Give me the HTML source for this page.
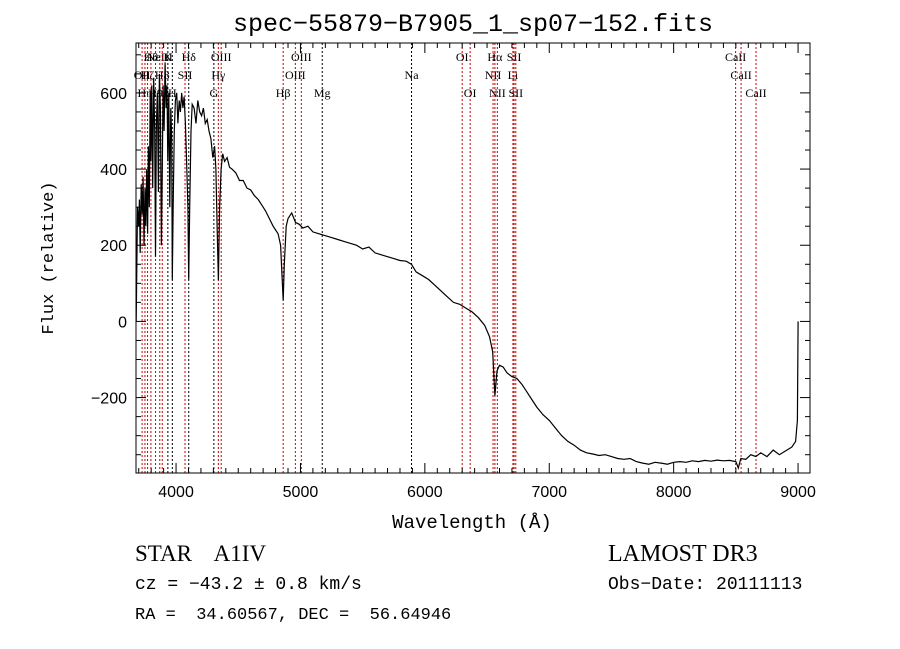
<!DOCTYPE html>
<html><head><meta charset="utf-8"><style>
html,body{margin:0;padding:0;background:#fff;width:900px;height:649px;overflow:hidden}
svg{display:block}
text{white-space:pre}
</style></head><body>
<svg id="chart" width="900" height="649" xmlns="http://www.w3.org/2000/svg" xml:space="preserve">
<text x="473" y="31" text-anchor="middle" font-family="Liberation Mono, monospace" font-size="25">spec−55879−B7905_1_sp07−152.fits</text>
<text transform="translate(53,258) rotate(-90)" text-anchor="middle" font-family="Liberation Mono, monospace" font-size="17">Flux (relative)</text>
<text x="472" y="528" text-anchor="middle" font-family="Liberation Mono, monospace" font-size="19">Wavelength (Å)</text>
<text x="135" y="561" font-family="Liberation Serif, serif" font-size="23">STAR    A1IV</text>
<text x="135" y="589" font-family="Liberation Mono, monospace" font-size="18">cz = −43.2 ± 0.8 km/s</text>
<text x="135" y="619" font-family="Liberation Mono, monospace" font-size="17">RA =  34.60567, DEC =  56.64946</text>
<text x="608" y="561" font-family="Liberation Serif, serif" font-size="24">LAMOST DR3</text>
<text x="608" y="589" font-family="Liberation Mono, monospace" font-size="18">Obs−Date: 20111113</text>
<g id="g"></g>
</svg>
<script>
const wave=[3680,3690,3700,3705,3712,3720,3728,3735,3742,3750,3757,3764,3771,3778,3785,3792,3798,3805,3812,3820,3828,3835,3842,3850,3858,3866,3874,3882,3889,3896,3904,3912,3920,3927,3934,3942,3950,3958,3965,3970,3978,3986,3995,4005,4015,4025,4035,4045,4055,4065,4075,4085,4095,4102,4110,4120,4130,4145,4160,4175,4190,4205,4220,4235,4250,4265,4280,4295,4310,4320,4330,4340,4350,4362,4375,4390,4410,4430,4450,4480,4510,4540,4570,4600,4630,4660,4690,4720,4750,4780,4800,4820,4840,4852,4861,4870,4885,4900,4930,4960,4990,5020,5060,5100,5150,5200,5250,5300,5350,5400,5450,5500,5550,5600,5650,5700,5750,5800,5850,5893,5930,5980,6030,6080,6130,6180,6230,6280,6330,6380,6430,6480,6520,6545,6563,6580,6600,6630,6660,6700,6740,6780,6820,6860,6900,6950,
7000,7050,7100,7150,7200,7250,7300,7350,7400,7450,7500,7550,7600,7650,7700,7750,7800,7850,7900,7950,
8000,8050,8100,8150,8200,8250,8300,8350,8400,8450,8500,8520,8540,8580,8620,8660,8700,8750,8800,8850,8900,8950,8980,8995,9000];
const flux=[0,300,250,320,180,360,280,380,200,350,250,400,230,460,300,600,420,620,350,640,500,170,520,600,340,650,560,200,380,620,500,680,560,620,420,600,300,560,480,110,330,500,580,600,520,580,550,600,560,590,520,420,300,110,300,500,570,560,520,580,550,540,560,520,530,500,480,430,460,400,250,108,300,400,440,420,430,405,400,390,370,370,350,345,330,320,305,290,270,250,240,230,200,120,55,150,250,270,285,260,255,245,250,235,230,225,220,215,210,205,200,190,195,180,175,170,165,160,158,150,130,120,110,95,80,65,50,45,35,25,10,-10,-40,-80,-195,-130,-115,-120,-135,-145,-150,-165,-185,-205,-225,-245,
-260,-280,-300,-315,-325,-338,-345,-348,-352,-350,-355,-360,-362,-360,-368,-372,-375,-370,-372,-375,
-370,-368,-370,-366,-368,-365,-367,-364,-366,-365,-368,-385,-360,-362,-350,-355,-345,-355,-338,-350,-340,-330,-315,-260,0];
const lineWave=[3727,3750,3771,3798,3835,3869,3889,3934,3970,4072,4102,4304,4340,4363,4861,4959,5007,5175,5893,6300,6364,6548,6563,6583,6708,6717,6731,8498,8542,8662];
const lineLabel=["OII","Hη","Hζ","Hθ","H9","NeIII","H8","K","H","SII","Hδ","G","Hγ","OIII","Hβ","OIII","OIII","Mg","Na","OI","OI","NII","Hα","NII","Li","SII","SII","CaII","CaII","CaII"];
const labelRow=[1,2,1,0,2,0,1,0,2,1,0,2,1,0,2,1,0,2,1,0,2,1,0,2,1,0,2,0,1,2];
const blackLines=["K","H","Hδ","G","Mg","Na"];
const xTicks=[4000,5000,6000,7000,8000,9000];
const yTicks=[-200,0,200,400,600];
const X0=136,X1=810,Y0=43,Y1=473,WMIN=3678,WMAX=9096,FMIN=-398,FMAX=731;
const xs=w=>X0+(w-WMIN)/(WMAX-WMIN)*(X1-X0);
const ys=f=>Y1-(f-FMIN)/(FMAX-FMIN)*(Y1-Y0);
const NS="http://www.w3.org/2000/svg",g=document.getElementById('g');
function mk(t,a){const e=document.createElementNS(NS,t);for(const k in a)e.setAttribute(k,a[k]);g.appendChild(e);return e;}
lineWave.forEach((w,i)=>{
  const l=mk('line',{x1:xs(w),x2:xs(w),y1:Y0,y2:Y1,stroke:blackLines.includes(lineLabel[i])?'#000':'#c00','stroke-width':1,'stroke-dasharray':'2,2'});
  
  
  const t=mk('text',{x:xs(w),y:61+labelRow[i]*18,'text-anchor':'middle','font-family':'Liberation Serif, serif','font-size':12});
  t.textContent=lineLabel[i];
  
  
});
const n=Math.min(wave.length,flux.length);
let d='';for(let i=0;i<n;i++){d+=(i?'L':'M')+xs(wave[i]).toFixed(1)+','+ys(flux[i]).toFixed(1);}
const p=mk('path',{d:d,fill:'none',stroke:'#000','stroke-width':1.2});


const fr=mk('rect',{x:X0,y:Y0,width:X1-X0,height:Y1-Y0,fill:'none',stroke:'#000','stroke-width':1});


for(let w=3700;w<=9000;w+=100){const major=w%1000===0,L=major?10:5,x=xs(w);
  mk('line',{x1:x,x2:x,y1:Y1,y2:Y1-L,stroke:'#000'});mk('line',{x1:x,x2:x,y1:Y0,y2:Y0+L,stroke:'#000'});}
xTicks.forEach(v=>{const t=mk('text',{x:xs(v),y:497,'text-anchor':'middle','font-family':'Liberation Sans, sans-serif','font-size':16});t.textContent=v;
  
  });
for(let f=-350;f<=700;f+=50){const major=f%200===0,L=major?10:5,y=ys(f);
  mk('line',{x1:X0,x2:X0+L,y1:y,y2:y,stroke:'#000'});mk('line',{x1:X1,x2:X1-L,y1:y,y2:y,stroke:'#000'});}
yTicks.forEach(v=>{const t=mk('text',{x:127,y:ys(v)+6,'text-anchor':'end','font-family':'Liberation Sans, sans-serif','font-size':16});t.textContent=v<0?'−'+(-v):v;
  
  });
</script>
</body></html>
